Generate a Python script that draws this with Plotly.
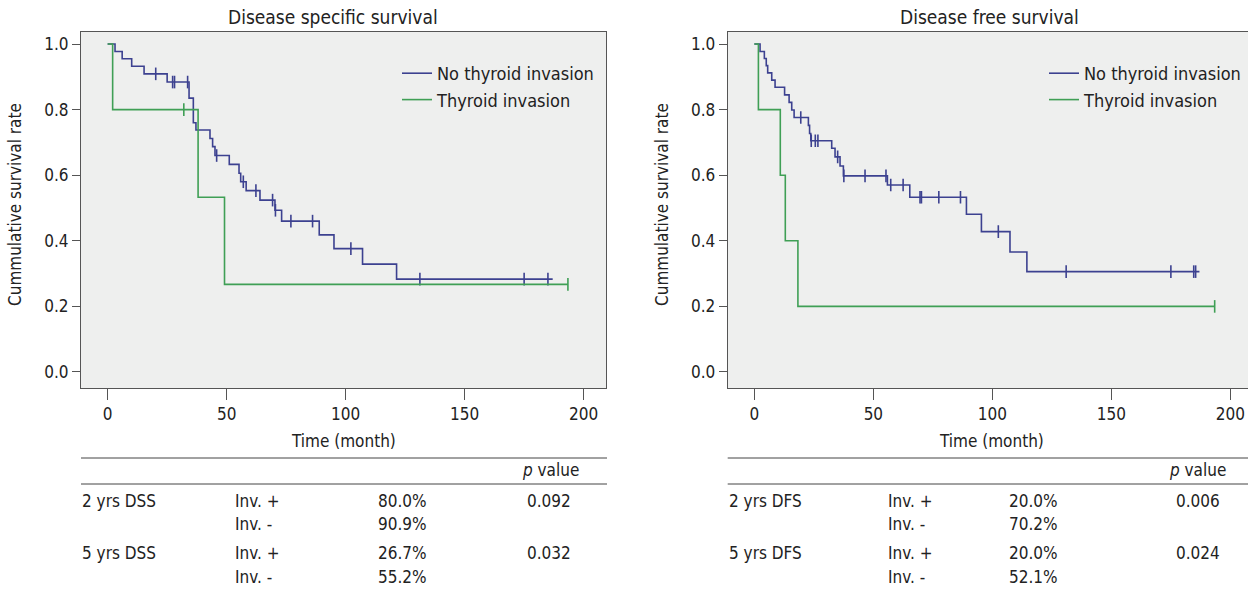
import plotly.graph_objects as go

# ---------------- data ----------------
# Disease specific survival (DSS)
dss_no_t = [0, 3.1, 6.1, 10.1, 15.3, 25.0, 34.2, 36.0, 37.1, 43.0, 44.1, 45.1, 51.1, 55.2, 55.9,
            58.2, 64.0, 70.3, 73.1, 88.9, 95.1, 107.1, 121.4, 187.0]
dss_no_s = [1.0, 0.977, 0.955, 0.932, 0.909, 0.884, 0.835, 0.760, 0.738, 0.712, 0.687, 0.660, 0.633,
            0.606, 0.580, 0.553, 0.524, 0.493, 0.460, 0.418, 0.376, 0.329, 0.283, 0.283]
dss_no_cens = [20.2, 27.3, 28.1, 33.6, 45.8, 57.0, 62.3, 69.3, 70.5, 77.0, 86.1, 102.2, 131.2, 175.0, 185.0]

dss_inv_t = [0, 2.1, 38.0, 49.1, 193.4]
dss_inv_s = [1.0, 0.80, 0.533, 0.267, 0.267]
dss_inv_cens = [32.0, 193.4]

# Disease free survival (DFS)
dfs_no_t = [0, 2.4, 4.2, 5.0, 5.6, 7.3, 8.7, 12.7, 14.6, 15.7, 16.7, 22.7, 23.2, 23.7, 32.5, 33.9,
            36.0, 37.4, 55.9, 65.3, 89.1, 95.4, 107.4, 114.5, 187.0]
dfs_no_s = [1.0, 0.977, 0.956, 0.934, 0.912, 0.890, 0.868, 0.845, 0.822, 0.799, 0.776, 0.752, 0.727,
            0.705, 0.682, 0.656, 0.628, 0.598, 0.570, 0.533, 0.481, 0.428, 0.366, 0.306, 0.306]
dfs_no_cens = [19.5, 23.9, 25.6, 26.7, 35.0, 37.6, 46.5, 55.3, 57.3, 62.5, 69.6, 70.2, 77.5, 86.6,
               102.5, 131.0, 175.0, 184.6, 185.4]

dfs_inv_t = [0, 1.7, 10.9, 13.0, 18.3, 193.4]
dfs_inv_s = [1.0, 0.80, 0.60, 0.40, 0.20, 0.20]
dfs_inv_cens = [193.4]

titles = ["Disease specific survival", "Disease free survival"]
series_names = ["No thyroid invasion", "Thyroid invasion"]
x_ticks = [0, 50, 100, 150, 200]
y_ticks = [0.0, 0.2, 0.4, 0.6, 0.8, 1.0]

table_dss = [["2 yrs DSS", "Inv. +", "80.0%", "0.092"],
             ["", "Inv. -", "90.9%", ""],
             ["5 yrs DSS", "Inv. +", "26.7%", "0.032"],
             ["", "Inv. -", "55.2%", ""]]
table_dfs = [["2 yrs DFS", "Inv. +", "20.0%", "0.006"],
             ["", "Inv. -", "70.2%", ""],
             ["5 yrs DFS", "Inv. +", "20.0%", "0.024"],
             ["", "Inv. -", "52.1%", ""]]

# ---------------- styling ----------------
W, H = 1248, 589
FONT = "Liberation Sans Narrow, DejaVu Sans Condensed, Arial Narrow, sans-serif"
TXT = "#222222"
BLUE = "#3c4190"
GREEN = "#3f9f55"
AXC = "#555555"


def px(x):
    return x / W


def py(y):
    return 1 - y / H


def step_value(times, surv, t):
    v = surv[0]
    for ti, si in zip(times, surv):
        if ti <= t:
            v = si
    return v


fig = go.Figure()

panels = [
    dict(xa="x", ya="y", legend="legend",
         curves=[(dss_no_t, dss_no_s, dss_no_cens, BLUE), (dss_inv_t, dss_inv_s, dss_inv_cens, GREEN)]),
    dict(xa="x2", ya="y2", legend="legend2",
         curves=[(dfs_no_t, dfs_no_s, dfs_no_cens, BLUE), (dfs_inv_t, dfs_inv_s, dfs_inv_cens, GREEN)]),
]

for p in panels:
    for (t, s, cens, col), name in zip(p["curves"], series_names):
        fig.add_trace(go.Scatter(x=t, y=s, mode="lines", line=dict(color=col, width=1.6, shape="hv"),
                                 name=name, xaxis=p["xa"], yaxis=p["ya"], legend=p["legend"]))
        fig.add_trace(go.Scatter(x=cens, y=[step_value(t, s, c) for c in cens], mode="markers",
                                 marker=dict(symbol="line-ns", size=9, line=dict(color=col, width=1.6)),
                                 showlegend=False, xaxis=p["xa"], yaxis=p["ya"]))

y_dom = [py(388), py(32)]
x_dom1 = [px(81), px(606)]
x_dom2 = [px(727.7), 1.0]

axis_common = dict(showline=True, linecolor=AXC, linewidth=1, mirror=True, ticks="outside",
                   tickcolor=AXC, showgrid=False, zeroline=False,
                   tickfont=dict(family=FONT, size=17, color=TXT))

fig.update_layout(
    width=W, height=H, margin=dict(l=0, r=0, t=0, b=0),
    paper_bgcolor="white", plot_bgcolor="#eeefee",
    font=dict(family=FONT, size=17, color=TXT),
    xaxis=dict(domain=x_dom1, range=[-11.2, 209.4], tickvals=x_ticks, ticklen=11, anchor="y", **axis_common),
    yaxis=dict(domain=y_dom, range=[-0.0488, 1.0366], tickvals=y_ticks, tickformat=".1f", ticklen=8,
               anchor="x", **axis_common),
    xaxis2=dict(domain=x_dom2, range=[-11.2, 207.4], tickvals=x_ticks, ticklen=11, anchor="y2", **axis_common),
    yaxis2=dict(domain=y_dom, range=[-0.0488, 1.0366], tickvals=y_ticks, tickformat=".1f", ticklen=8,
                anchor="x2", **axis_common),
    legend=dict(x=px(397), y=py(55), xanchor="left", yanchor="top", bgcolor="rgba(0,0,0,0)",
                font=dict(family=FONT, size=18, color=TXT), tracegroupgap=0, itemwidth=30),
    legend2=dict(x=px(1044), y=py(55), xanchor="left", yanchor="top", bgcolor="rgba(0,0,0,0)",
                 font=dict(family=FONT, size=18, color=TXT), tracegroupgap=0, itemwidth=30),
)

ann = []
# titles
for title, cx in zip(titles, [333, 989]):
    ann.append(dict(text=title, x=px(cx), y=py(17), xref="paper", yref="paper", showarrow=False,
                    xanchor="center", yanchor="middle", font=dict(size=19)))
# axis titles
for cx in [15, 662]:
    ann.append(dict(text="Cummulative survival rate", x=px(cx), y=py(205), xref="paper", yref="paper",
                    showarrow=False, textangle=-90, xanchor="center", yanchor="middle", font=dict(size=17)))
for cx in [343, 991]:
    ann.append(dict(text="Time (month)", x=px(cx), y=py(441), xref="paper", yref="paper",
                    showarrow=False, xanchor="center", yanchor="middle", font=dict(size=17)))

# tables
row_y = [501, 524, 553, 577]
for table, cols, pcx, (x0, x1) in [
    (table_dss, [80, 233, 376, 549], 550, (81, 607)),
    (table_dfs, [727, 886, 1007, 1198], 1197, (727.7, 1248)),
]:
    ann.append(dict(text="<i>p</i> value", x=px(pcx), y=py(470), xref="paper", yref="paper",
                    showarrow=False, xanchor="center", yanchor="middle", font=dict(size=17)))
    for r, ry in zip(table, row_y):
        for j, (cell, cx) in enumerate(zip(r, cols)):
            if not cell:
                continue
            ann.append(dict(text=cell, x=px(cx), y=py(ry), xref="paper", yref="paper", showarrow=False,
                            xanchor="center" if j == 3 else "left", yanchor="middle", font=dict(size=17)))
    for ly in [458, 484]:
        fig.add_shape(type="line", xref="paper", yref="paper", x0=px(x0), x1=px(x1), y0=py(ly), y1=py(ly),
                      line=dict(color="#444444", width=1))

fig.update_layout(annotations=ann)
fig.write_html("out.html", config={"displayModeBar": False},
               post_script="document.body.style.margin='0';document.body.style.overflow='hidden';")
